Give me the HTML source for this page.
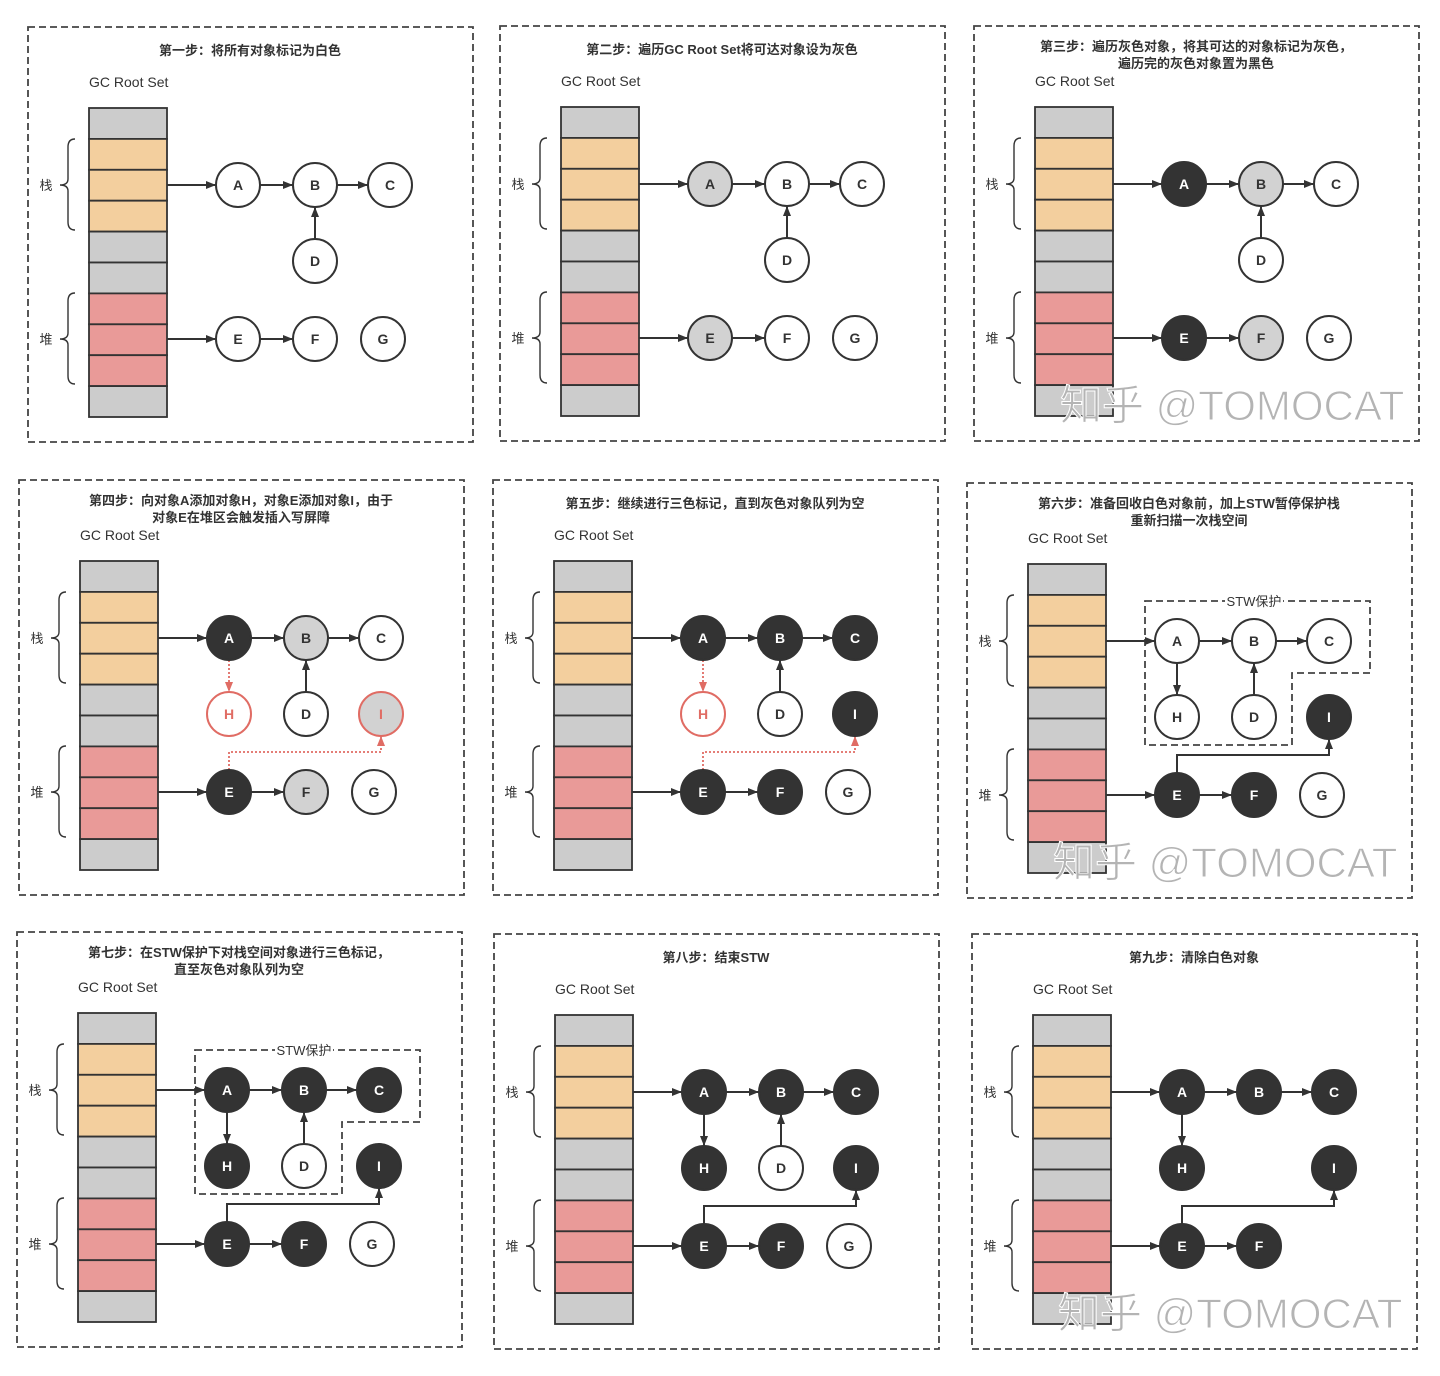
<!DOCTYPE html>
<html><head><meta charset="utf-8"><style>
html,body{margin:0;padding:0;background:#fff;}
svg{display:block;}
text{font-family:"Liberation Sans","Noto Sans CJK SC",sans-serif;}
</style></head><body>
<svg id="s" width="1440" height="1376" viewBox="0 0 1440 1376" xmlns="http://www.w3.org/2000/svg">
<defs>
<marker id="ar" markerWidth="10" markerHeight="8" refX="10" refY="4" orient="auto" markerUnits="userSpaceOnUse"><path d="M0,0 L10,4 L0,8 Z" fill="#333"/></marker>
<marker id="ar2" markerWidth="10" markerHeight="8" refX="10" refY="4" orient="auto" markerUnits="userSpaceOnUse"><path d="M0,0 L10,4 L0,8 Z" fill="#e06c64"/></marker>
</defs>
</svg>
<script>
const S=document.getElementById('s');
let out='';
const W='#fff',G='#d2d2d2',K='#333';
const panels=[
 {cx:89,ty:108,t:['第一步：将所有对象标记为白色'],n:{A:W,B:W,C:W,D:W,E:W,F:W,G:W}},
 {cx:561,ty:107,t:['第二步：遍历GC Root Set将可达对象设为灰色'],n:{A:G,B:W,C:W,D:W,E:G,F:W,G:W}},
 {cx:1035,ty:107,t:['第三步：遍历灰色对象，将其可达的对象标记为灰色，','遍历完的灰色对象置为黑色'],n:{A:K,B:G,C:W,D:W,E:K,F:G,G:W},wm:1},
 {cx:80,ty:561,t:['第四步：向对象A添加对象H，对象E添加对象I，由于','对象E在堆区会触发插入写屏障'],n:{A:K,B:G,C:W,D:W,E:K,F:G,G:W,H:'rw',I:'rg'},red:1},
 {cx:554,ty:561,t:['第五步：继续进行三色标记，直到灰色对象队列为空'],n:{A:K,B:K,C:K,D:W,E:K,F:K,G:W,H:'rw',I:K},red:1},
 {cx:1028,ty:564,t:['第六步：准备回收白色对象前，加上STW暂停保护栈','重新扫描一次栈空间'],n:{A:W,B:W,C:W,D:W,E:K,F:K,G:W,H:W,I:K},solid:1,stw:1,wm:1},
 {cx:78,ty:1013,t:['第七步：在STW保护下对栈空间对象进行三色标记，','直至灰色对象队列为空'],n:{A:K,B:K,C:K,D:W,E:K,F:K,G:W,H:K,I:K},solid:1,stw:1},
 {cx:555,ty:1015,t:['第八步：结束STW'],n:{A:K,B:K,C:K,D:W,E:K,F:K,G:W,H:K,I:K},solid:1},
 {cx:1033,ty:1015,t:['第九步：清除白色对象'],n:{A:K,B:K,C:K,E:K,F:K,H:K,I:K},solid:1,nod:1,wm:1},
];
const pos={A:[149,77],B:[226,77],C:[301,77],D:[226,153],H:[149,153],I:[301,153],E:[149,231],F:[226,231],G:[294,231]};
const rowc=['#cccccc','#f3cf9e','#f3cf9e','#f3cf9e','#cccccc','#cccccc','#e99a98','#e99a98','#e99a98','#cccccc'];
function ln(x1,y1,x2,y2,extra){out+=`<line x1="${x1}" y1="${y1}" x2="${x2}" y2="${y2}" stroke="#333" stroke-width="2" ${extra||'marker-end="url(#ar)"'}/>`;}
panels.forEach(p=>{
 const x0=p.cx,y0=p.ty;
 const P=k=>[x0+pos[k][0],y0+pos[k][1]];
 out+=`<rect x="${x0-61}" y="${y0-81}" width="445" height="415" fill="none" stroke="#444" stroke-width="1.8" stroke-dasharray="7,4"/>`;
 const cxm=x0+161;
 p.t.forEach((s,i)=>{out+=`<text x="${cxm}" y="${y0-(p.t.length==2?56:53)+i*17}" font-size="13" font-weight="bold" fill="#333" text-anchor="middle">${s}</text>`;});
 out+=`<text x="${x0}" y="${y0-21}" font-size="14" fill="#333">GC Root Set</text>`;
 for(let i=0;i<10;i++)out+=`<rect x="${x0}" y="${y0+i*30.9}" width="78" height="30.9" fill="${rowc[i]}" stroke="#333" stroke-width="1.8"/>`;
 [[31,122,77,'栈'],[185,276,231,'堆']].forEach(b=>{const bx=x0-14,a=y0+b[0],c=y0+b[1],m=y0+b[2];
  out+=`<path d="M${bx},${a} Q${bx-7},${a} ${bx-7},${a+8} L${bx-7},${m-6} Q${bx-7},${m} ${bx-15},${m} Q${bx-7},${m} ${bx-7},${m+6} L${bx-7},${c-8} Q${bx-7},${c} ${bx},${c}" fill="none" stroke="#333" stroke-width="1.4"/>`;
  out+=`<text x="${x0-43}" y="${m+5}" font-size="13" fill="#333" text-anchor="middle">${b[3]}</text>`;});
 if(p.stw){const a=x0+117,r=x0+342,t=y0+37,m=y0+109,nx=x0+264,bt=y0+181;
  out+=`<path d="M${a},${t} H${r} V${m} H${nx} V${bt} H${a} Z" fill="none" stroke="#444" stroke-width="1.8" stroke-dasharray="7,4"/>`;
  out+=`<rect x="${x0+197}" y="${t-8}" width="58" height="16" fill="#fff"/><text x="${x0+226}" y="${t+5}" font-size="13" fill="#333" text-anchor="middle">STW保护</text>`;}
 const R=22;
 let [ax,ay]=P('A'),[bx,by]=P('B'),[cx,cy]=P('C'),[ex,ey]=P('E'),[fx,fy]=P('F');
 ln(x0+78,ay,ax-R,ay);ln(ax+R,ay,bx-R,by);ln(bx+R,by,cx-R,cy);
 if(!p.nod){const [dx,dy]=P('D');ln(dx,dy-R,bx,by+R);}
 ln(x0+78,ey,ex-R,ey);ln(ex+R,ey,fx-R,fy);
 if(p.n.H){const [hx,hy]=P('H'),[ix,iy]=P('I');const my=y0+191;
  if(p.red){out+=`<line x1="${ax}" y1="${ay+R}" x2="${hx}" y2="${hy-R}" stroke="#e06c64" stroke-width="1.8" stroke-dasharray="2,2" marker-end="url(#ar2)"/>`;
   out+=`<path d="M${ex},${ey-R} V${my} H${ix} V${iy+R}" fill="none" stroke="#e06c64" stroke-width="1.8" stroke-dasharray="2,2" marker-end="url(#ar2)"/>`;}
  else{ln(ax,ay+R,hx,hy-R);out+=`<path d="M${ex},${ey-R} V${my} H${ix} V${iy+R}" fill="none" stroke="#333" stroke-width="2" marker-end="url(#ar)"/>`;}}
 for(const k in p.n){const [x,y]=P(k);let f=p.n[k],st='#333',tc='#333';
  if(f==='rw'){f='#fff';st='#e06c64';tc='#e06c64';}else if(f==='rg'){f='#d2d2d2';st='#e06c64';tc='#e06c64';}else if(f===K){tc='#fff';}
  out+=`<circle cx="${x}" cy="${y}" r="${R}" fill="${f}" stroke="${st}" stroke-width="2"/><text x="${x}" y="${y+5}" font-size="14" font-weight="bold" fill="${tc}" text-anchor="middle">${k}</text>`;}
 if(p.wm){out+=`<text x="${x0+25}" y="${y0+313}" font-size="42" fill="#b4b4b4" stroke="#fff" stroke-width="1">知乎 @TOMOCAT</text>`;}
});
S.insertAdjacentHTML('beforeend',out);
</script>
</body></html>
